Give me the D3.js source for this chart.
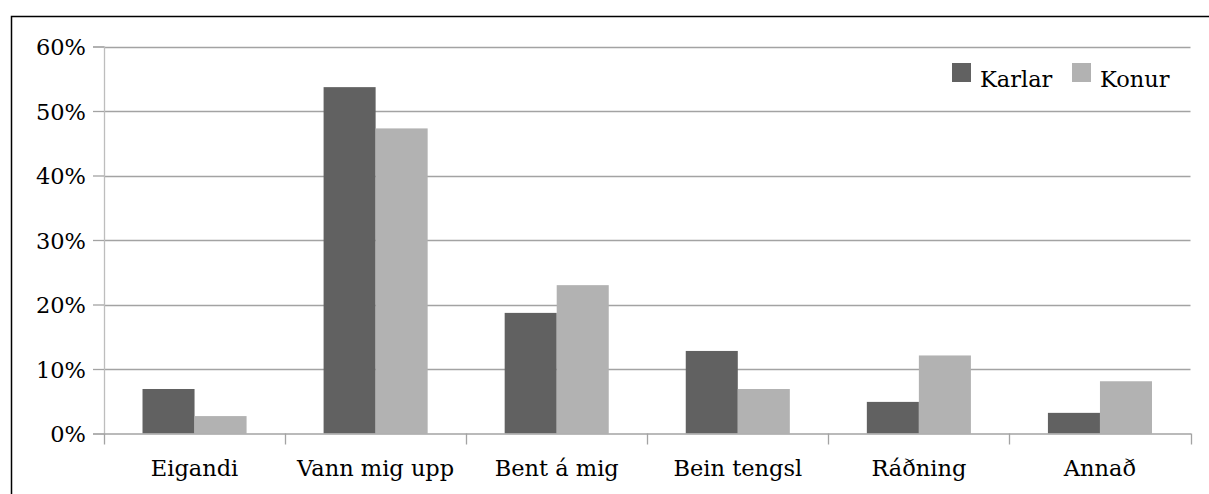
<!DOCTYPE html>
<html>
<head>
<meta charset="utf-8">
<script src="https://cdn.jsdelivr.net/npm/d3@7"></script>
<style>
  html, body { margin: 0; padding: 0; background: #fff; }
  svg { display: block; }
  text { font-family: "DejaVu Serif", "Liberation Serif", serif; fill: #000; }
</style>
</head>
<body>
<svg id="chart" width="1209" height="494"></svg>
<script>
const categories = ["Eigandi", "Vann mig upp", "Bent á mig", "Bein tengsl", "Ráðning", "Annað"];
const seriesNames = ["Karlar", "Konur"];
const karlar = [6.9, 53.7, 18.7, 12.8, 4.9, 3.2];
const konur = [2.7, 47.3, 23.0, 6.9, 12.1, 8.1];
const yTicks = [0, 10, 20, 30, 40, 50, 60];
const colors = ["#616161", "#b2b2b2"];

const svg = d3.select("#chart");
const plotLeft = 104, plotRight = 1190.5, plotTop = 46.5, plotBottom = 433.5;
const fs = 22.5;

// outer frame (left + top visible)
svg.append("rect").attr("x", 11.5).attr("y", 16.5).attr("width", 1400).attr("height", 800)
  .attr("fill", "none").attr("stroke", "#000").attr("stroke-width", 1.5);

const x = d3.scaleBand().domain(categories).range([plotLeft, plotRight]).paddingInner(0).paddingOuter(0);
const xInner = d3.scaleBand().domain(seriesNames).range([0, x.bandwidth()]).paddingInner(0).paddingOuter(0.74);
const y = d3.scaleLinear().domain([0, 60]).range([plotBottom, plotTop]);

// gridlines
svg.append("g").selectAll("line").data(yTicks.filter(d => d > 0)).join("line")
  .attr("x1", plotLeft).attr("x2", plotRight)
  .attr("y1", d => Math.round(y(d)) + 0.5).attr("y2", d => Math.round(y(d)) + 0.5)
  .attr("stroke", "#a3a3a3").attr("stroke-width", 1.3);

// y axis
const yAxis = svg.append("g").attr("transform", `translate(${plotLeft},0)`)
  .call(d3.axisLeft(y).tickValues(yTicks).tickSize(11).tickPadding(7).tickFormat(d => d + "%"));
yAxis.select(".domain").attr("stroke", "#bdbdbd").attr("stroke-width", 1.3);
yAxis.selectAll(".tick line").attr("stroke", "#a3a3a3").attr("stroke-width", 1.3);
yAxis.selectAll(".tick text").attr("font-size", fs).attr("font-family", "DejaVu Serif").attr("fill", "#000").attr("dy", "0.36em");

// bars
const data = [karlar, konur];
const groups = svg.append("g").selectAll("g").data(seriesNames).join("g").attr("fill", (d, i) => colors[i]);
groups.selectAll("rect").data((s, i) => categories.map((c, j) => ({c, s, v: data[i][j]}))).join("rect")
  .attr("x", d => x(d.c) + xInner(d.s))
  .attr("width", xInner.bandwidth())
  .attr("y", d => y(d.v))
  .attr("height", d => plotBottom - y(d.v));

// x axis
const xAxis = svg.append("g").attr("transform", `translate(0,${plotBottom})`)
  .call(d3.axisBottom(x).tickSize(0).tickPadding(27));
xAxis.select(".domain").attr("stroke", "#a3a3a3").attr("stroke-width", 1.3);
xAxis.selectAll(".tick text").attr("font-size", fs).attr("font-family", "DejaVu Serif").attr("fill", "#000");
// category boundary ticks
const bounds = categories.map(c => x(c)).concat([plotRight]);
svg.append("g").selectAll("line").data(bounds).join("line")
  .attr("x1", d => Math.round(d) + 0.5).attr("x2", d => Math.round(d) + 0.5)
  .attr("y1", plotBottom).attr("y2", plotBottom + 11)
  .attr("stroke", "#a3a3a3").attr("stroke-width", 1.3);

// legend
const legendX = [952, 1072];
const legend = svg.append("g").selectAll("g").data(seriesNames).join("g")
  .attr("transform", (d, i) => `translate(${legendX[i]},63)`);
legend.append("rect").attr("width", 19).attr("height", 19).attr("fill", (d, i) => colors[i]);
legend.append("text").attr("x", 28).attr("y", 24).attr("font-size", fs).text(d => d);
</script>
</body>
</html>
